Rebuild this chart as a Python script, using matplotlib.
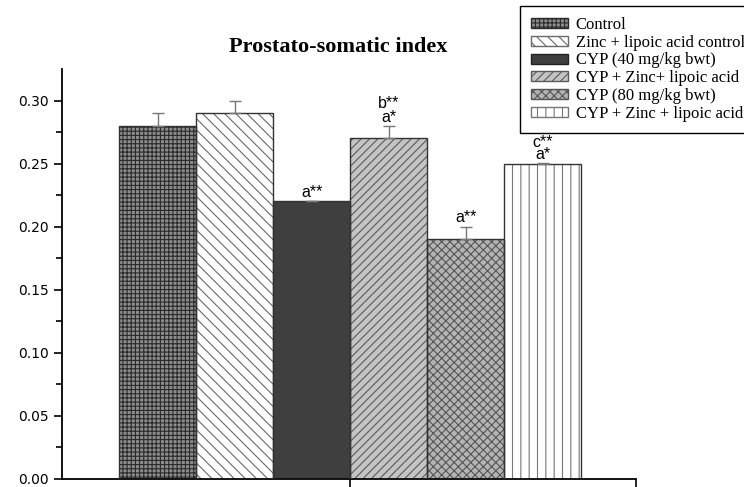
import numpy as np
import matplotlib
matplotlib.use("Agg")
import matplotlib.pyplot as plt
from matplotlib.patches import Patch

plt.rcParams['font.family'] = ['Liberation Sans', 'DejaVu Sans']
plt.rcParams['hatch.linewidth'] = 0.8

groups = ['Control', 'Zinc + lipoic acid control', 'CYP (40 mg/kg bwt)',
          'CYP + Zinc+ lipoic acid', 'CYP (80 mg/kg bwt)', 'CYP + Zinc + lipoic acid']
values = [0.28, 0.29, 0.22, 0.27, 0.19, 0.25]
errors = [0.010, 0.010, 0.0005, 0.010, 0.010, 0.0005]
# significance letters above each bar, bottom line first
marks = [[], [], ['a**'], ['a*', 'b**'], ['a**'], ['a*', 'c**']]

faces = ['#8c8c8c', 'white', '#3f3f3f', '#c4c4c4', '#b4b4b4', 'white']
hatch_cols = ['#2a2a2a', '#6a6a6a', '#3f3f3f', '#5a5a5a', '#555555', '#777777']
hatches = ['++++', '\\\\\\', '', '////', 'xxxx', '||']

fig = plt.figure(figsize=(7.44, 4.87), dpi=100)
ax = fig.add_axes([62/744, 8/487, 574/744, 410/487])

x = np.arange(len(values))
for i in range(len(values)):
    ax.bar(x[i], values[i], width=1.0, color=faces[i], edgecolor=hatch_cols[i],
           hatch=hatches[i], linewidth=0, zorder=2)
    ax.bar(x[i], values[i], width=1.0, fill=False, edgecolor='#333333',
           linewidth=1.0, zorder=3)

ax.errorbar(x, values, yerr=[np.zeros(len(errors)), errors], fmt='none',
            ecolor='#777777', elinewidth=1.0, capsize=4, capthick=1.0, zorder=4)

for i, lines in enumerate(marks):
    base = values[i] + errors[i] + 0.001
    step = 0.011 if i == 3 else 0.0095
    for j, s in enumerate(lines):
        ax.text(x[i], base + j*step, s, ha='center', va='bottom', fontsize=11.5)

ax.set_ylim(0, 0.325)
xl = (-1.24, 6.21)
ax.set_xlim(*xl)
ax.set_yticks(np.arange(0, 0.31, 0.05))
ax.set_yticks(np.arange(0.025, 0.31, 0.05), minor=True)
ax.set_yticklabels(['%.2f' % v for v in np.arange(0, 0.31, 0.05)],
                   fontsize=10, family='DejaVu Sans')
ax.set_xticks([2.5, xl[1]])
ax.set_xticklabels([])
ax.tick_params(axis='both', which='major', direction='out', length=6, width=1.2)
ax.tick_params(axis='y', which='minor', direction='out', length=4, width=1.2)
for s in ['top', 'right']:
    ax.spines[s].set_visible(False)
for s in ['left', 'bottom']:
    ax.spines[s].set_linewidth(1.3)

fig.text(338/744, 1 - 47/487, 'Prostato-somatic index', ha='center', va='center',
         fontsize=16, fontweight='bold', family='Liberation Serif')

handles = [Patch(facecolor=faces[i], edgecolor=hatch_cols[i] if i != 2 else '#222222',
                 hatch=hatches[i], linewidth=1.0) for i in range(len(values))]
leg = fig.legend(handles, groups, loc='upper left', bbox_to_anchor=(520/744, 1 - 6/487),
                 borderaxespad=0, prop={'family': 'Liberation Serif', 'size': 12},
                 frameon=True, fancybox=False, edgecolor='black', framealpha=1,
                 handlelength=2.2, handleheight=0.55, labelspacing=0.11,
                 borderpad=0.65, handletextpad=0.5)
leg.get_frame().set_linewidth(1.0)

fig.savefig('out.png', dpi=100)
